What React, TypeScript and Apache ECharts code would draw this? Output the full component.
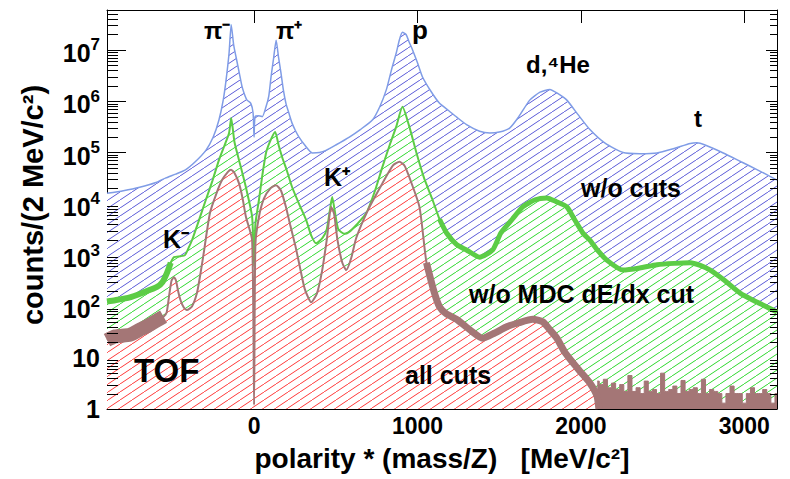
import React, { useEffect, useRef } from 'react';
import * as echarts from 'echarts';

// ---- axis ranges and tick values ----
const massRange = [-900, 3200];
const countRange = [1, 6e7];
const massTicks = [0, 1000, 2000, 3000];

// ---- spectrum without cuts ----
const noCutsMass = [
  -900, -800, -700, -600, -540, -480, -420, -360, -295, -250, -215, -190, -172, -153, -140, -125, -110, -90, -73, -55,
  -43, -20, -6, 0, 6, 30, 50, 73, 90, 104, 120, 135, 150, 165, 180, 195, 215, 233, 255, 275,
  310, 357, 400, 440, 500, 583, 650, 724, 770, 810, 840, 870, 890, 908, 930, 950, 970, 1000, 1030, 1080,
  1135, 1190, 1240, 1300, 1380, 1442, 1500, 1564, 1620, 1687, 1750, 1810, 1860, 1914, 1980, 2055, 2150, 2258, 2360, 2466,
  2570, 2669, 2710, 2760, 2871, 2980, 3080, 3200,
];
const noCutsCounts = [
  1.6e4, 1.8e4, 2.1e4, 2.6e4, 3.2e4, 3.8e4, 4.6e4, 6.6e4, 1.1e5, 2.0e5, 4.3e5, 1.0e6, 2.5e6, 8.7e6, 3.1e7, 1.26e7, 7.2e6, 3.5e6, 1.9e6, 1.26e6,
  1.05e6, 9.1e5, 5.9e5, 2.0e5, 5.0e5, 5.2e5, 5.0e5, 7.8e5, 1.26e6, 3.0e6, 7.1e6, 1.55e7, 7.1e6, 3.5e6, 1.6e6, 9.1e5, 5.6e5, 3.7e5, 2.6e5, 2.0e5,
  1.4e5, 9.8e4, 1.0e5, 1.1e5, 1.4e5, 2.0e5, 2.8e5, 4.3e5, 7.9e5, 1.7e6, 4.0e6, 8.7e6, 1.6e7, 2.2e7, 2.0e7, 1.4e7, 1.0e7, 5.6e6, 3.0e6, 1.6e6,
  9.1e5, 6.6e5, 4.9e5, 3.5e5, 2.6e5, 2.4e5, 2.5e5, 3.0e5, 5.0e5, 1.05e6, 1.5e6, 1.7e6, 1.4e6, 1.05e6, 5.6e5, 2.8e5, 1.5e5, 1.0e5, 9.5e4, 9.8e4,
  1.2e5, 1.5e5, 1.55e5, 1.4e5, 9.8e4, 6.6e4, 4.6e4, 2.9e4,
];

// ---- spectrum without the MDC dE/dx cut ----
const noMdcMass = [
  -900, -850, -760, -680, -594, -560, -533, -510, -490, -450, -423, -400, -380, -340, -295, -255, -215, -180, -153, -140,
  -120, -92, -50, -12, 0, 8, 30, 50, 73, 100, 129, 150, 172, 200, 233, 275, 319, 350, 380, 420,
  445, 465, 478, 492, 515, 553, 580, 630, 687, 740, 785, 830, 870, 908, 950, 994, 1040, 1092, 1135, 1178,
  1240, 1300, 1380, 1460, 1510, 1580, 1644, 1720, 1791, 1850, 1914, 1960, 2012, 2055, 2100, 2160, 2258, 2360, 2466, 2570,
  2669, 2730, 2791, 2880, 2976, 3080, 3200,
];
const noMdcCounts = [
  125, 132, 150, 186, 240, 300, 450, 710, 910, 950, 1000, 1400, 1950, 4500, 1.2e4, 2.8e4, 7.1e4, 1.4e5, 2.4e5, 4.7e5,
  1.6e5, 7.1e4, 2.1e4, 5600, 590, 4000, 1.2e4, 3.5e4, 9.8e4, 1.7e5, 2.5e5, 1.4e5, 8.1e4, 4.5e4, 2.1e4, 1.0e4, 4800, 2400, 1700, 2200,
  3200, 7900, 1.35e4, 7900, 3200, 2600, 2800, 4000, 6600, 1.8e4, 5.2e4, 1.4e5, 3.2e5, 7.8e5, 3.2e5, 9.8e4, 3.2e4, 1.2e4, 5000, 2700,
  1600, 1260, 910, 1260, 2700, 5000, 8700, 1.2e4, 1.3e4, 1.1e4, 8700, 5000, 2700, 1950, 1260, 790, 510, 560, 650, 690,
  710, 630, 510, 320, 180, 120, 78,
];

// ---- spectrum with all cuts ----
const allCutsMass = [
  -900, -850, -760, -700, -650, -600, -554, -535, -520, -505, -490, -478, -465, -450, -430, -411, -380, -350, -330, -310,
  -270, -230, -196, -160, -141, -120, -92, -70, -50, -12, 0, 8, 30, 60, 100, 135, 165, 195, 220, 251,
  275, 310, 350, 385, 417, 445, 472, 490, 510, 540, 564, 595, 626, 700, 785, 850, 890, 920, 950, 1012,
  1055, 1100, 1135, 1178, 1240, 1320, 1399, 1470, 1546, 1620, 1705, 1766, 1810, 1853, 1900, 1951, 2000, 2055, 2098, 2110,
];
const allCutsCounts = [
  22, 26, 28, 35, 42, 52, 63, 76, 160, 320, 370, 320, 200, 132, 95, 85, 100, 180, 400, 1000,
  6600, 1.6e4, 2.9e4, 4.2e4, 4.6e4, 4.0e4, 2.5e4, 1.26e4, 5600, 1950, 1.2, 1600, 5600, 1.26e4, 2.0e4, 2.3e4, 1.8e4, 8700, 4000, 1600,
  710, 220, 120, 180, 510, 2000, 8700, 6300, 2000, 710, 510, 890, 2200, 7900, 2.5e4, 5.6e4, 6.6e4, 5.6e4, 3.3e4, 8700,
  710, 200, 98, 71, 56, 35, 24, 30, 40, 48, 56, 50, 35, 24, 13, 8, 5.2, 3.2, 1.8, 1,
];

// sparse high-mass tail of the all-cuts spectrum (counts per bin)
const allCutsTailMass = [
  2100, 2125, 2150, 2175, 2200, 2225, 2250, 2275, 2300, 2325, 2350, 2375, 2400, 2425, 2450, 2475, 2500, 2525, 2550, 2575,
  2600, 2625, 2650, 2675, 2700, 2725, 2750, 2775, 2800, 2825, 2850, 2875, 2900, 2925, 2950, 2975, 3000, 3025, 3050, 3075,
  3100, 3125, 3150, 3175, 3200,
];
const allCutsTailCounts = [
  3.5, 3, 3.8, 2.6, 3.2, 2.4, 3, 2.2, 4.5, 2.2, 2.6, 2, 3.5, 2.2, 2.4, 2, 5, 2.2, 2.4, 2.8,
  2, 3.6, 2.2, 2.4, 2.6, 2, 3.8, 2, 2.4, 2.2, 2, 1.3, 2, 2.8, 2, 2, 1.3, 2, 2.6, 2,
  2, 2.4, 2, 1.3, 2,
];

const FONT = '"Liberation Sans", Arial, Helvetica, sans-serif';

const pairs = (xs: number[], ys: number[]) => xs.map((x, i) => [x, ys[i]]);
const segment = (xs: number[], ys: number[], lo: number, hi: number) =>
  pairs(xs, ys).filter(([x]) => x >= lo && x <= hi);

// diagonal hatch fill on a white ground
function hatch(color: string) {
  const w = 12;
  const h = 8;
  const c = document.createElement('canvas');
  c.width = w;
  c.height = h;
  const ctx = c.getContext('2d')!;
  ctx.fillStyle = '#ffffff';
  ctx.fillRect(0, 0, w, h);
  ctx.strokeStyle = color;
  ctx.lineWidth = 1;
  ctx.beginPath();
  for (let k = -1; k <= 1; k++) {
    ctx.moveTo(k * w, h);
    ctx.lineTo(k * w + w, 0);
  }
  ctx.stroke();
  return { image: c, repeat: 'repeat', imageWidth: w, imageHeight: h } as any;
}

function minorTickValues() {
  const out: number[] = [];
  for (let e = 0; e <= 7; e++) {
    for (let m = 2; m <= 9; m++) {
      const v = m * Math.pow(10, e);
      if (v < countRange[1]) out.push(v);
    }
  }
  return out;
}

function label(text: string, x: number, y: number, size: number, align = 'left') {
  return {
    type: 'text',
    x,
    y,
    z: 100,
    silent: true,
    style: {
      text,
      fill: '#000',
      font: `bold ${size}px ${FONT}`,
      textAlign: align,
      textVerticalAlign: 'middle',
    },
  };
}

function buildOption(): any {
  const blue = '#7f9ce6';
  const green = '#5ccc46';
  const brown = '#a47676';
  const lineBase = { type: 'line', symbol: 'none', smooth: 0.2, silent: true };

  return {
    animation: false,
    backgroundColor: '#ffffff',
    grid: { left: 107, right: 13, top: 10, bottom: 70, containLabel: false },
    xAxis: [
      {
        type: 'value',
        min: massRange[0],
        max: massRange[1],
        position: 'bottom',
        axisLine: { show: true, onZero: false, lineStyle: { color: '#000', width: 1 } },
        axisTick: { show: true, inside: true, length: 13, customValues: massTicks, lineStyle: { color: '#000' } },
        axisLabel: {
          customValues: massTicks,
          margin: 5,
          color: '#000',
          fontSize: 23,
          fontWeight: 'bold',
          fontFamily: FONT,
          formatter: (v: number) => String(Math.round(v)),
        },
        splitLine: { show: false },
      },
      {
        type: 'value',
        min: massRange[0],
        max: massRange[1],
        position: 'top',
        axisLine: { show: true, onZero: false, lineStyle: { color: '#000', width: 1 } },
        axisTick: { show: true, inside: true, length: 13, customValues: massTicks, lineStyle: { color: '#000' } },
        axisLabel: { show: false },
        splitLine: { show: false },
      },
    ],
    yAxis: [
      {
        type: 'log',
        logBase: 10,
        min: countRange[0],
        max: countRange[1],
        position: 'left',
        axisLine: { show: true, onZero: false, lineStyle: { color: '#000', width: 1 } },
        axisTick: { show: true, inside: true, length: 19, lineStyle: { color: '#000' } },
        axisLabel: {
          margin: 7,
          showMaxLabel: false,
          formatter: (v: number) => {
            const e = Math.round(Math.log10(v));
            if (e === 0) return '{p|1}';
            if (e === 1) return '{p|10}';
            return `{b|10}{s|${e}}`;
          },
          rich: {
            p: { fontSize: 25, fontWeight: 'bold', fontFamily: FONT, color: '#000', lineHeight: 26 },
            b: { fontSize: 25, fontWeight: 'bold', fontFamily: FONT, color: '#000', lineHeight: 26, padding: [6, 0, 0, 0] },
            s: { fontSize: 17, fontWeight: 'bold', fontFamily: FONT, color: '#000', lineHeight: 18, padding: [0, 0, 10, 0] },
          },
        },
        splitLine: { show: false },
      },
      {
        type: 'log',
        logBase: 10,
        min: countRange[0],
        max: countRange[1],
        position: 'right',
        axisLine: { show: true, onZero: false, lineStyle: { color: '#000', width: 1 } },
        axisTick: { show: true, inside: true, length: 11, lineStyle: { color: '#000' } },
        axisLabel: { show: false },
        splitLine: { show: false },
      },
    ],
    series: [
      {
        ...lineBase,
        name: 'w/o cuts',
        z: 1,
        data: pairs(noCutsMass, noCutsCounts),
        lineStyle: { color: blue, width: 1.5 },
        areaStyle: { color: hatch('#5b5bd8'), opacity: 1 },
      },
      {
        ...lineBase,
        name: 'w/o MDC dE/dx cut',
        z: 2,
        data: pairs(noMdcMass, noMdcCounts),
        lineStyle: { color: green, width: 2 },
        areaStyle: { color: hatch('#2fd82f'), opacity: 1 },
      },
      {
        ...lineBase,
        z: 3,
        data: segment(noMdcMass, noMdcCounts, -900, -505),
        lineStyle: { color: green, width: 6 },
      },
      {
        ...lineBase,
        z: 3,
        data: segment(noMdcMass, noMdcCounts, 1100, 3200),
        lineStyle: { color: green, width: 5 },
      },
      {
        ...lineBase,
        name: 'all cuts',
        z: 4,
        data: pairs(allCutsMass, allCutsCounts),
        lineStyle: { color: brown, width: 2 },
        areaStyle: { color: hatch('#ff3a3a'), opacity: 1 },
      },
      {
        ...lineBase,
        z: 5,
        data: segment(allCutsMass, allCutsCounts, -900, -545),
        lineStyle: { color: brown, width: 14 },
      },
      {
        ...lineBase,
        z: 5,
        data: segment(allCutsMass, allCutsCounts, 1055, 2110),
        lineStyle: { color: brown, width: 7 },
      },
      {
        type: 'line',
        symbol: 'none',
        silent: true,
        step: 'middle',
        z: 5,
        data: pairs(allCutsTailMass, allCutsTailCounts),
        lineStyle: { color: brown, width: 1 },
        areaStyle: { color: brown, opacity: 1 },
      },
      {
        type: 'custom',
        silent: true,
        z: 10,
        data: minorTickValues().map((v) => [massRange[0], v]),
        encode: { x: 0, y: 1 },
        renderItem: (params: any, api: any) => {
          const cs = params.coordSys;
          const y = Math.round(api.coord([massRange[0], api.value(1)])[1]) + 0.5;
          const left = cs.x;
          const right = cs.x + cs.width;
          return {
            type: 'group',
            children: [
              { type: 'line', shape: { x1: left, y1: y, x2: left + 11, y2: y }, style: { stroke: '#000', lineWidth: 1 } },
              { type: 'line', shape: { x1: right - 7, y1: y, x2: right, y2: y }, style: { stroke: '#000', lineWidth: 1 } },
            ],
          };
        },
      },
    ],
    graphic: [
      label('π⁻', 204, 30, 24),
      label('π⁺', 276, 30, 24),
      label('p', 412, 30, 26),
      label('d,⁴He', 526, 64, 24),
      label('t', 694, 118, 24),
      label('K⁺', 324, 177, 25),
      label('K⁻', 163, 239, 25),
      label('w/o cuts', 581, 188, 25),
      label('w/o MDC dE/dx cut', 469, 294, 25),
      label('all cuts', 405, 375, 25),
      label('TOF', 134, 370, 33),
      label('polarity * (mass/Z) \u00a0 [MeV/c²]', 442, 458, 28, 'center'),
      {
        type: 'text',
        x: 33,
        y: 205,
        rotation: Math.PI / 2,
        z: 100,
        silent: true,
        style: {
          text: 'counts/(2 MeV/c²)',
          fill: '#000',
          font: `bold 29px ${FONT}`,
          textAlign: 'center',
          textVerticalAlign: 'middle',
        },
      },
    ],
  };
}

export default function App() {
  const ref = useRef<HTMLDivElement>(null);
  useEffect(() => {
    document.body.style.margin = '0';
    const chart = echarts.init(ref.current!, null, { renderer: 'svg' });
    chart.setOption(buildOption());
    return () => chart.dispose();
  }, []);
  return <div ref={ref} style={{ width: 790, height: 479 }} />;
}
